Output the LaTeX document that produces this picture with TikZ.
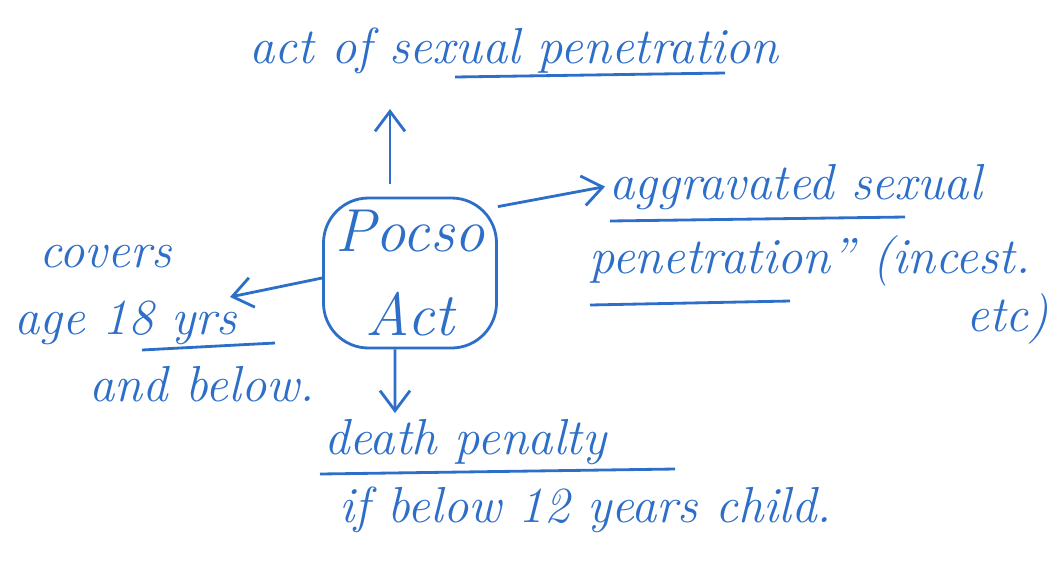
\documentclass[tikz,border=0pt]{standalone}
\usepackage{xcolor}
\usepackage{tikz}
\usetikzlibrary{arrows.meta,positioning}
\definecolor{ink}{RGB}{45,110,200}

\begin{document}
\begin{tikzpicture}[
    x=1cm, y=1cm,
    every node/.style={text=ink, font=\Large\itshape},
    hand/.style={inner sep=1pt, anchor=base west},
    actbox/.style={draw=ink, thick, rounded corners=0.45cm, minimum width=1.7cm, minimum height=1.5cm, align=center, font=\LARGE\itshape},
    link/.style={draw=ink, thick, -{Straight Barb[length=2mm,width=3mm]}},
    uline/.style={draw=ink, thick}
]
    \useasboundingbox (0,0) rectangle (10.48,5.79);

    % centre
    \node[actbox] (pocso) at (4.10,3.06) {Pocso\\[2pt]Act};

    % top
    \node[hand] (act) at (2.45,5.16) {act of sexual penetration};
    \coordinate (actend) at (3.90,4.70);
    \draw[link] (3.90,3.95) -- (actend);
    \draw[uline] (4.55,5.02) -- (7.25,5.06);

    % right
    \node[hand] (aggr) at (6.05,3.80) {aggravated sexual};
    \node[hand] (pene) at (5.85,3.06) {penetration'' (incest.};
    \node[hand] (etc) at (9.62,2.48) {etc)};
    \draw[link] (pocso.north east) ++(0,-0.1) -- (aggr.west);
    \draw[uline] (6.10,3.58) -- (9.05,3.62);
    \draw[uline] (5.90,2.74) -- (7.90,2.78);

    % left
    \node[hand] (covers) at (0.35,3.12) {covers};
    \node[hand] (age) at (0.10,2.45) {age 18 yrs};
    \node[hand] (below) at (0.85,1.78) {and below.};
    \draw[link] (pocso.west) ++(0,-0.05) -- (2.30,2.82);
    \draw[uline] (1.42,2.29) -- (2.75,2.36);

    % bottom
    \node[hand] (death) at (3.20,1.25) {death penalty};
    \node[hand] (child) at (3.35,0.57) {if below 12 years child.};
    \draw[link] (pocso.south) ++(-0.15,0) -- (3.95,1.66);
    \draw[uline] (3.20,1.05) -- (6.75,1.10);
\end{tikzpicture}
\end{document}
